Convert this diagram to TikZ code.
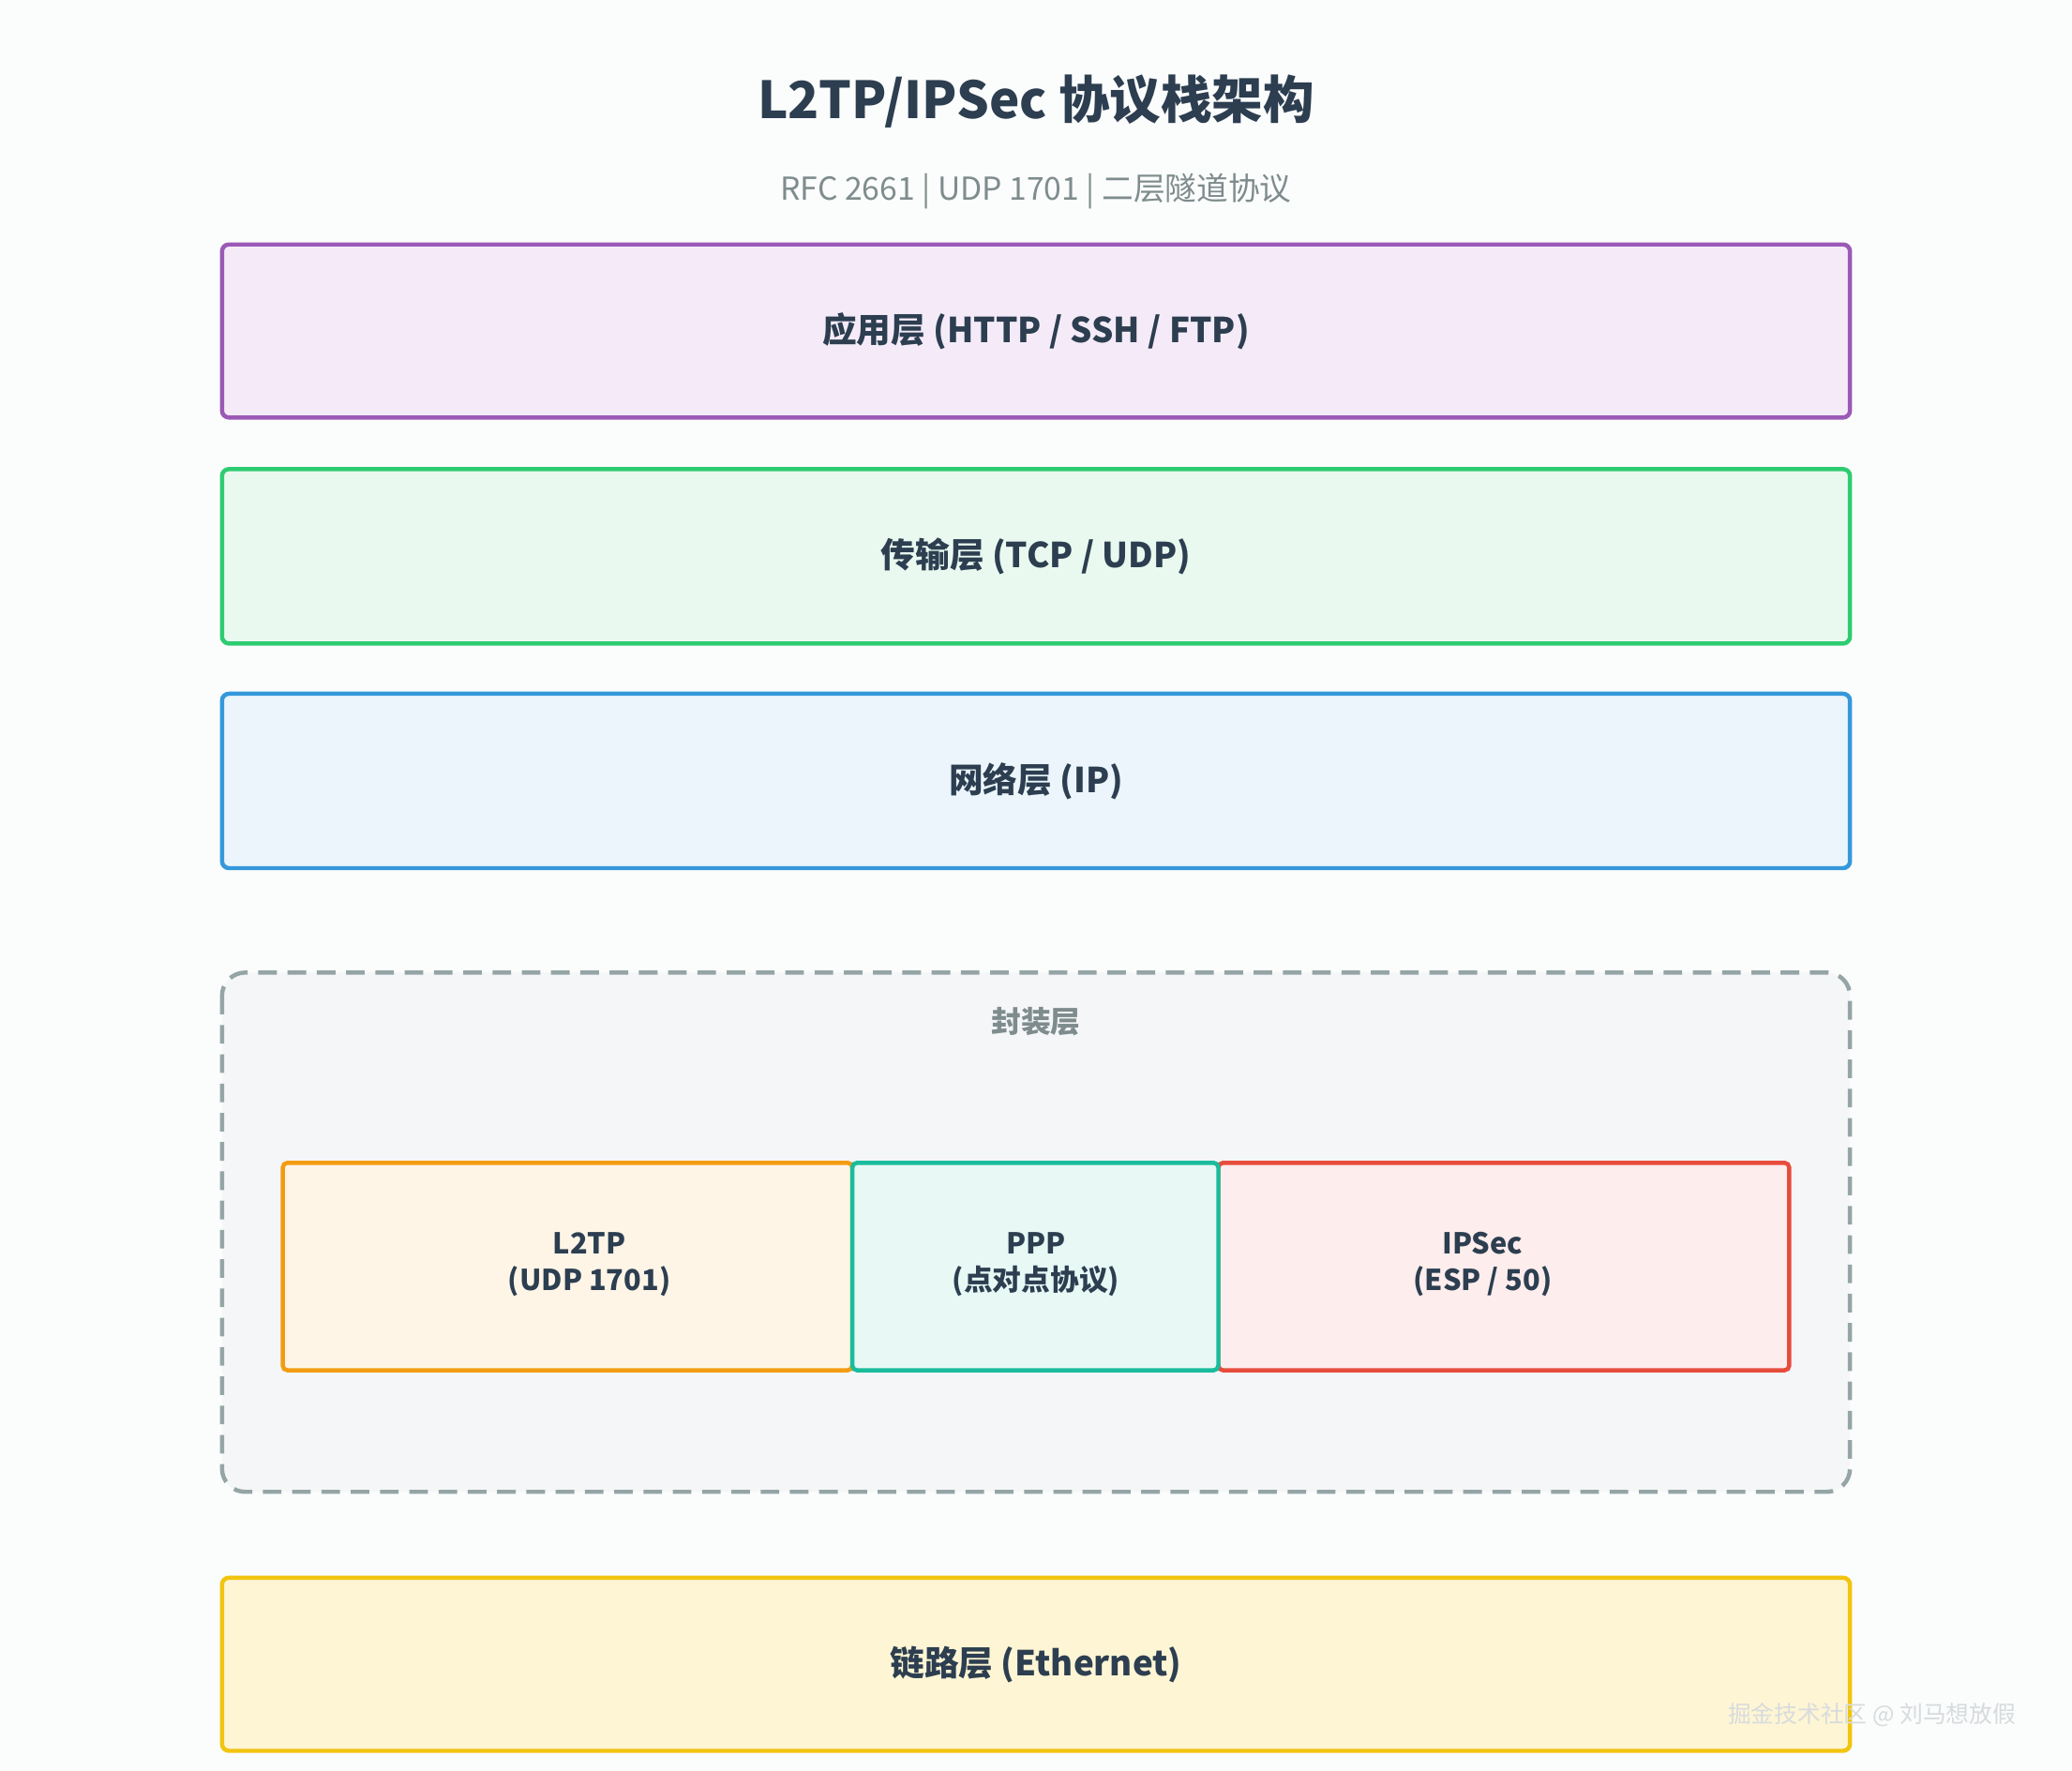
\documentclass[tikz,border=0pt]{standalone}
\usepackage{fontspec}
\newfontfamily\cjk{Noto Sans CJK SC}
\definecolor{bg}{HTML}{FBFCFC}
\definecolor{txt}{HTML}{2C3E50}
\definecolor{sub}{HTML}{7F8C8D}
\begin{document}
\begin{tikzpicture}[x=0.01cm,y=-0.01cm,
  layer/.style={draw, line width=0.9pt, rounded corners=1.5pt, font=\cjk\bfseries\fontsize{7.4}{9}\selectfont, text=txt},
  inner/.style={draw, line width=0.9pt, rounded corners=1pt},
  innertxt/.style={font=\cjk\bfseries\fontsize{6.2}{7.8}\selectfont, text=txt, align=center}]
\fill[bg] (0,0) rectangle (1568,1340);
\useasboundingbox (0,0) rectangle (1568,1340);
\node[font=\cjk\bfseries\fontsize{11}{13}\selectfont, text=txt] (title) at (784,77) {L2TP/IPSec 协议栈架构};
\node[font=\cjk\fontsize{6.8}{8}\selectfont, text=sub] (subtitle) at (784,145) {RFC 2661 | UDP 1701 | 二层隧道协议};
\draw[layer, draw={rgb,255:red,155;green,89;blue,182}, fill={rgb,255:red,245;green,235;blue,248}] (168,185) rectangle node (app) {应用层 (HTTP / SSH / FTP)} (1400,316);
\draw[layer, draw={rgb,255:red,46;green,204;blue,113}, fill={rgb,255:red,234;green,249;blue,239}] (168,355) rectangle node (trans) {传输层 (TCP / UDP)} (1400,487);
\draw[layer, draw={rgb,255:red,52;green,152;blue,219}, fill={rgb,255:red,235;green,245;blue,251}] (168,525) rectangle node (net) {网络层 (IP)} (1400,657);
\draw[dash pattern=on 4pt off 2.3pt, line width=0.9pt, rounded corners=5pt, draw={rgb,255:red,149;green,165;blue,166}, fill={rgb,255:red,244;green,246;blue,247}] (168,736) rectangle (1400,1129);
\node[font=\cjk\bfseries\fontsize{6.4}{8}\selectfont, text=sub] (encap) at (784,773) {封装层};
\draw[inner, draw={rgb,255:red,243;green,156;blue,18}, fill={rgb,255:red,254;green,245;blue,231}] (214,880) rectangle (645,1037);
\draw[inner, draw={rgb,255:red,231;green,76;blue,60}, fill={rgb,255:red,253;green,237;blue,236}] (922,880) rectangle (1354,1037);
\draw[inner, draw={rgb,255:red,26;green,188;blue,156}, fill={rgb,255:red,232;green,248;blue,245}] (645,880) rectangle (922,1037);
\node[innertxt] (l2tp) at (446,957) {L2TP\\(UDP 1701)};
\node[innertxt] (ppp) at (784,957) {PPP\\(点对点协议)};
\node[innertxt] (ipsec) at (1122,957) {IPSec\\(ESP / 50)};
\draw[layer, draw={rgb,255:red,241;green,196;blue,15}, fill={rgb,255:red,254;green,245;blue,212}] (168,1194) rectangle node (link) {链路层 (Ethernet)} (1400,1325);
\node[font=\cjk\fontsize{5}{6}\selectfont, text={rgb,255:red,215;green,219;blue,221}, anchor=east] (wm) at (1538,1298) {掘金技术社区 @ 刘马想放假};
\end{tikzpicture}
\end{document}
